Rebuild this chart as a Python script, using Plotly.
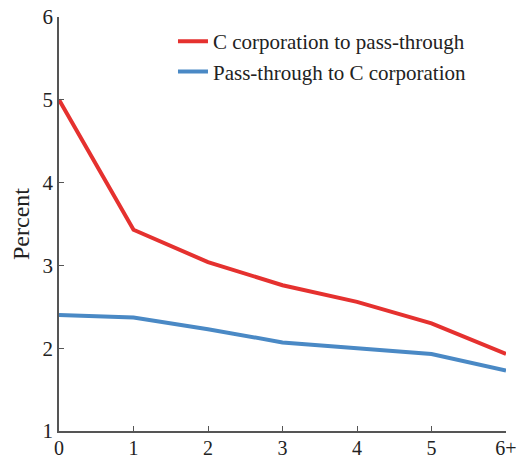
import plotly.graph_objects as go

# Years since the organizational-form switch
years = ["0", "1", "2", "3", "4", "5", "6+"]
c_to_pass = [5.00, 3.43, 3.04, 2.76, 2.56, 2.30, 1.93]
pass_to_c = [2.40, 2.37, 2.23, 2.07, 2.00, 1.93, 1.73]

xpos = list(range(len(years)))
FONT = "Liberation Serif"
AXIS_COLOR = "#555555"

fig = go.Figure()
fig.add_trace(go.Scatter(
    x=xpos, y=c_to_pass, mode="lines", name="C corporation to pass-through",
    line=dict(color="#e5312f", width=4), cliponaxis=False,
))
fig.add_trace(go.Scatter(
    x=xpos, y=pass_to_c, mode="lines", name="Pass-through to C corporation",
    line=dict(color="#4a89c5", width=4), cliponaxis=False,
))

fig.update_layout(
    width=521, height=459,
    margin=dict(l=59, r=15, t=17, b=28),
    paper_bgcolor="white", plot_bgcolor="white",
    font=dict(family=FONT, size=21, color="#222222"),
    showlegend=True,
    legend=dict(
        x=0.255, y=0.99, xanchor="left", yanchor="top",
        bgcolor="rgba(0,0,0,0)", font=dict(size=21, family=FONT),
        tracegroupgap=0, itemwidth=30,
    ),
    xaxis=dict(
        range=[0, 6], tickmode="array", tickvals=xpos, ticktext=years,
        showgrid=False, zeroline=False, showline=True, linecolor=AXIS_COLOR,
        linewidth=1.5, ticks="inside", ticklen=5, tickcolor=AXIS_COLOR,
        tickfont=dict(size=20), ticklabelstandoff=-2,
        automargin=False, fixedrange=True,
    ),
    yaxis=dict(
        range=[1, 6], tickmode="array", tickvals=[1, 2, 3, 4, 5, 6],
        showgrid=False, zeroline=False, showline=True, linecolor=AXIS_COLOR,
        linewidth=1.5, ticks="inside", ticklen=5, tickcolor=AXIS_COLOR,
        tickfont=dict(size=21), automargin=False,
        title=dict(text="Percent", font=dict(size=24), standoff=6),
    ),
)

fig.write_html("out.html")
